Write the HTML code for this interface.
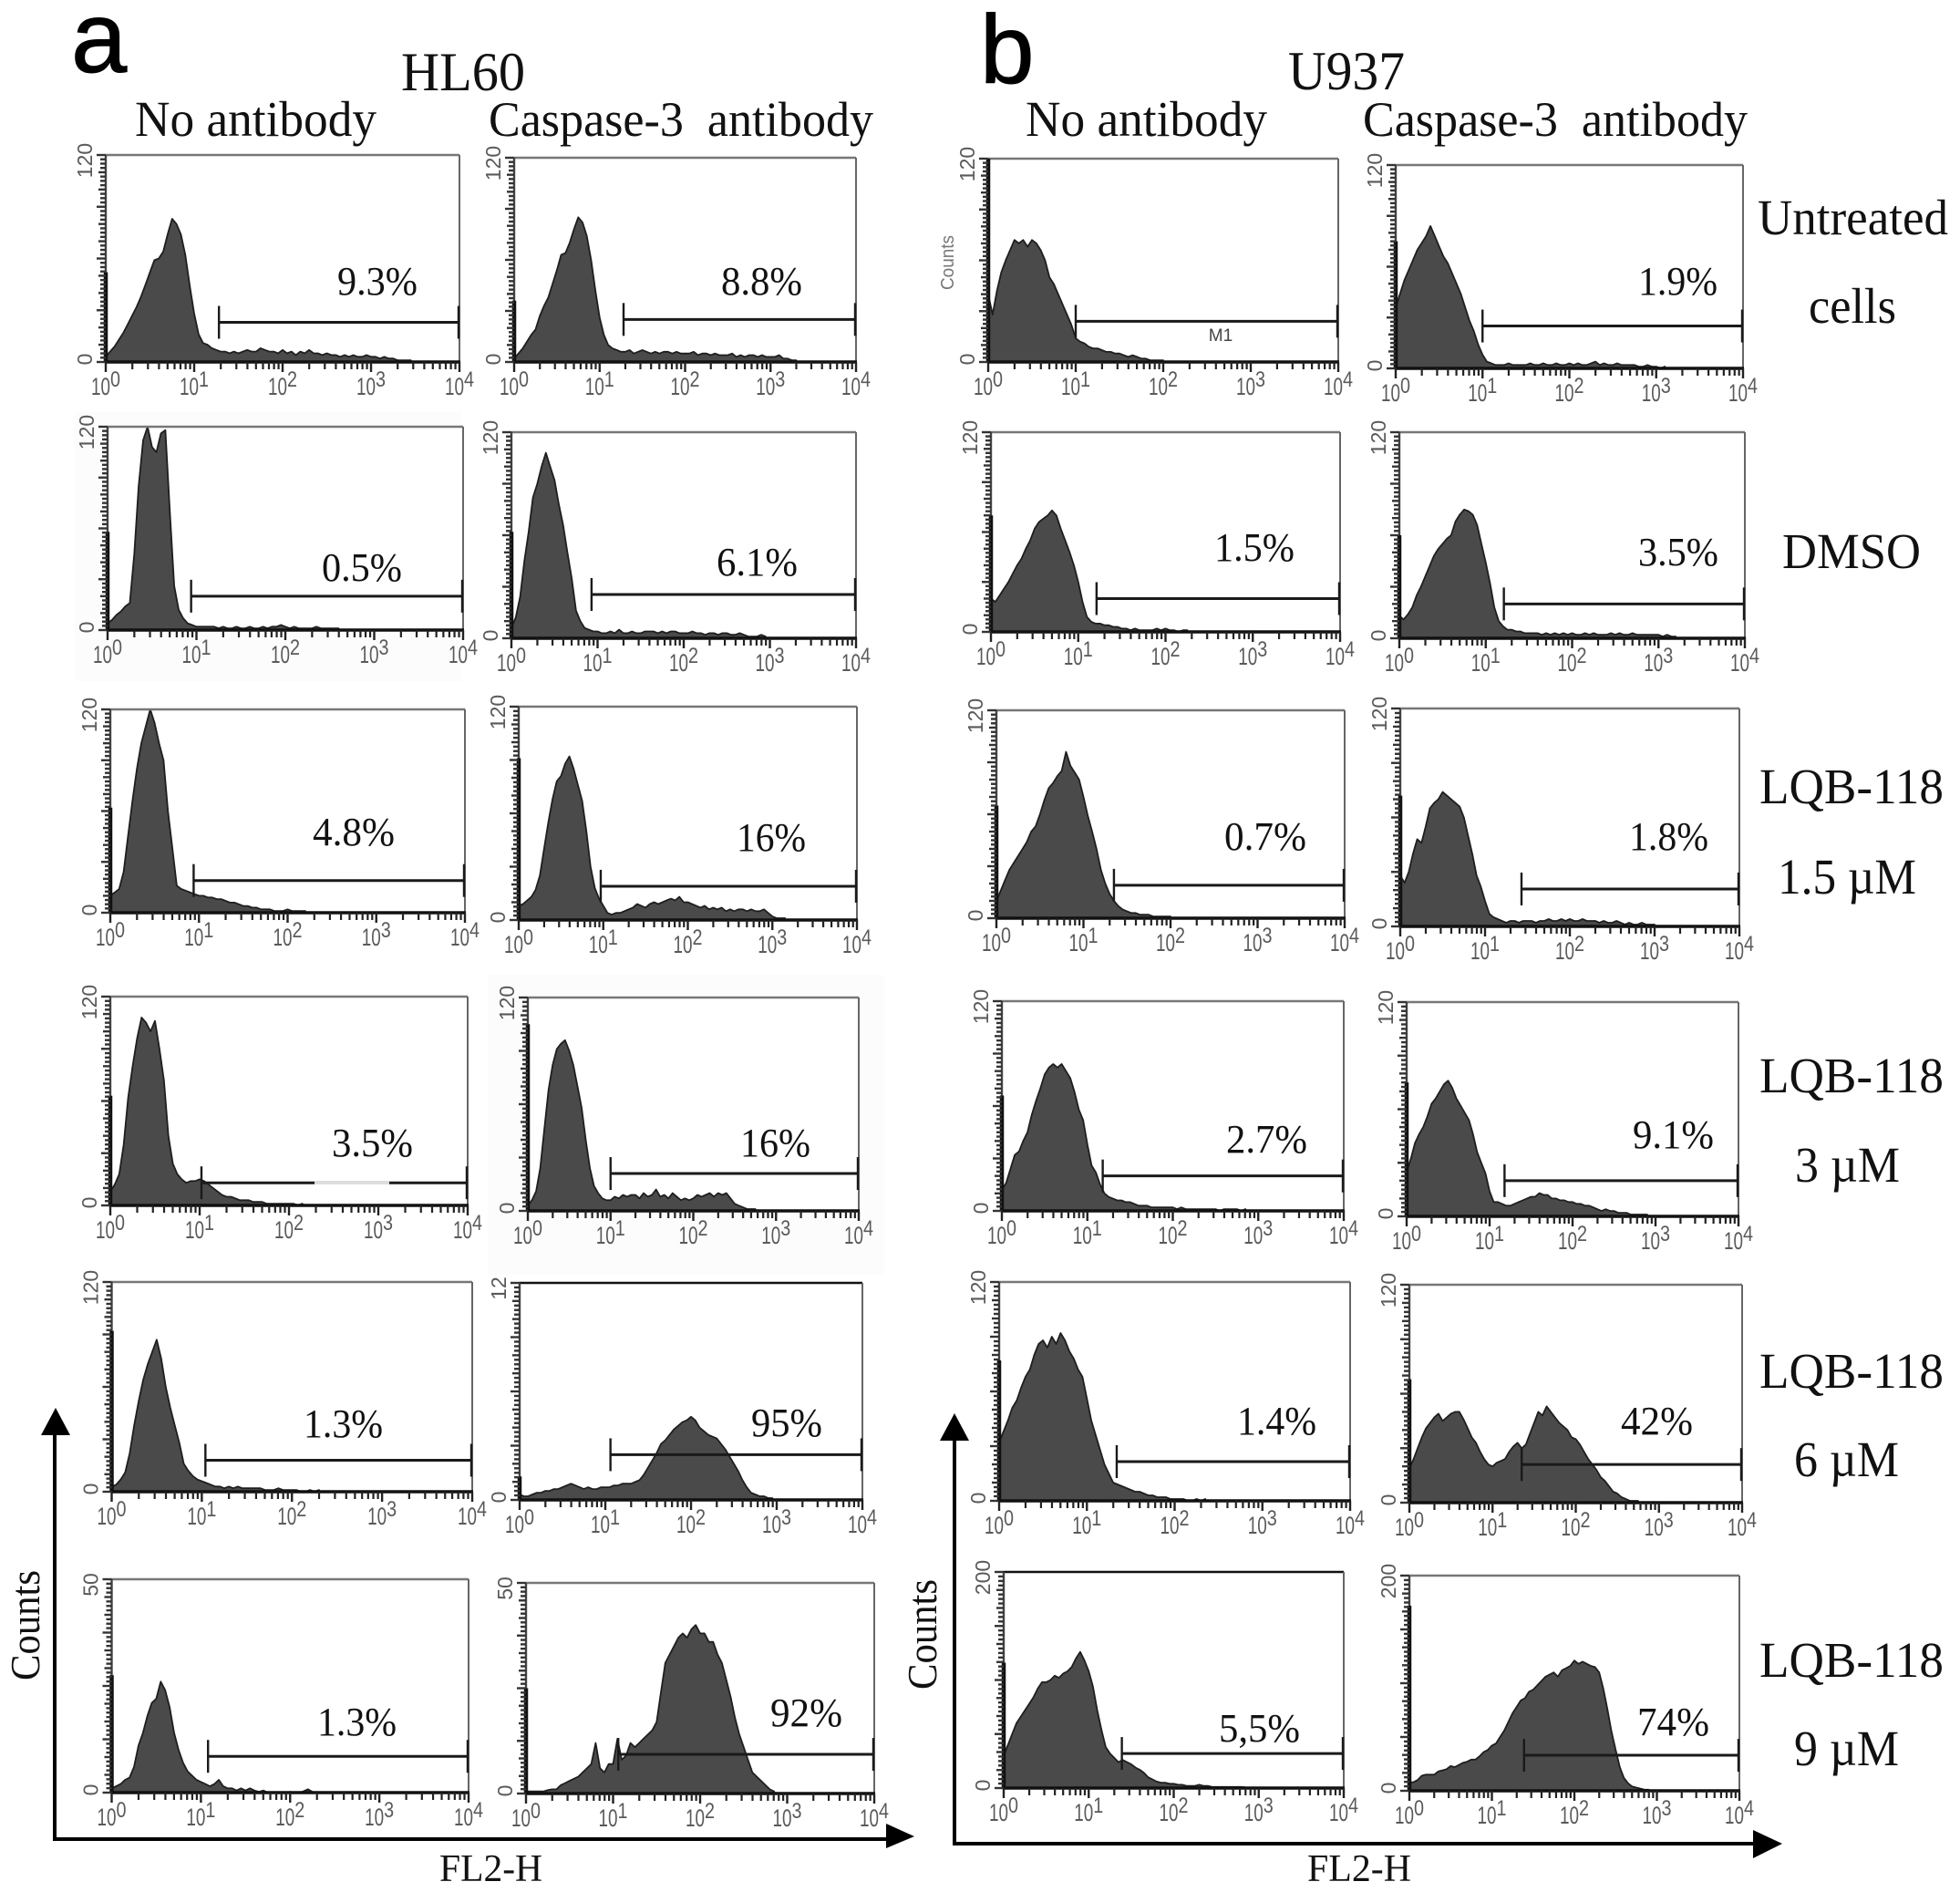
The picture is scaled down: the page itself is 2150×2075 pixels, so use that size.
<!DOCTYPE html>
<html lang="en">
<head>
<meta charset="utf-8">
<title>Caspase-3 flow cytometry histograms for HL60 and U937 cells</title>
<style>
html,body{margin:0;padding:0;background:#fff}
svg{display:block}
.serif{font-family:"Liberation Serif",serif;fill:#111}
.sans{font-family:"Liberation Sans",sans-serif}
</style>
</head>
<body>
<svg id="figure" xmlns="http://www.w3.org/2000/svg" width="2150" height="2075" viewBox="0 0 2150 2075">
  <rect x="0" y="0" width="2150" height="2075" fill="#fff"/>
  <rect x="82" y="452" width="425" height="295" fill="#fcfcfc"/>
  <rect x="535" y="1069" width="435" height="329" fill="#fcfcfc"/>

  <text class="sans" x="78" y="79" font-size="110" fill="#000" stroke="#000" stroke-width="1">a</text>
  <text class="sans" x="1075" y="91" font-size="107" fill="#000" stroke="#000" stroke-width="1">b</text>

  <text class="serif" x="440" y="99" font-size="60" textLength="136" lengthAdjust="spacingAndGlyphs">HL60</text>
  <text class="serif" x="1413" y="98" font-size="60" textLength="128" lengthAdjust="spacingAndGlyphs">U937</text>
  <text class="serif" x="148" y="149" font-size="55" textLength="265" lengthAdjust="spacingAndGlyphs">No antibody</text>
  <text class="serif" x="536" y="149" font-size="54" textLength="422" lengthAdjust="spacingAndGlyphs">Caspase-3&#160; antibody</text>
  <text class="serif" x="1125" y="149" font-size="55" textLength="265" lengthAdjust="spacingAndGlyphs">No antibody</text>
  <text class="serif" x="1495" y="149" font-size="54" textLength="422" lengthAdjust="spacingAndGlyphs">Caspase-3&#160; antibody</text>

  <text class="serif" x="1928" y="257" font-size="55" textLength="209" lengthAdjust="spacingAndGlyphs">Untreated</text>
  <text class="serif" x="1984" y="354" font-size="55" textLength="96" lengthAdjust="spacingAndGlyphs">cells</text>
  <text class="serif" x="1955" y="623" font-size="55" textLength="152" lengthAdjust="spacingAndGlyphs">DMSO</text>
  <text class="serif" x="1930" y="881" font-size="55" textLength="202" lengthAdjust="spacingAndGlyphs">LQB-118</text>
  <text class="serif" x="1950" y="980" font-size="55" textLength="152" lengthAdjust="spacingAndGlyphs">1.5 µM</text>
  <text class="serif" x="1930" y="1198" font-size="55" textLength="202" lengthAdjust="spacingAndGlyphs">LQB-118</text>
  <text class="serif" x="1969" y="1296" font-size="55" textLength="115" lengthAdjust="spacingAndGlyphs">3 µM</text>
  <text class="serif" x="1930" y="1522" font-size="55" textLength="202" lengthAdjust="spacingAndGlyphs">LQB-118</text>
  <text class="serif" x="1968" y="1619" font-size="55" textLength="115" lengthAdjust="spacingAndGlyphs">6 µM</text>
  <text class="serif" x="1930" y="1839" font-size="55" textLength="202" lengthAdjust="spacingAndGlyphs">LQB-118</text>
  <text class="serif" x="1968" y="1936" font-size="55" textLength="115" lengthAdjust="spacingAndGlyphs">9 µM</text>

  <g id="panels"></g>

  <rect x="345" y="1295" width="82" height="4" fill="#ddd"/>
  <text class="sans" x="1339" y="374" font-size="19" fill="#444" text-anchor="middle">M1</text>
  <text class="sans" transform="translate(1046,318) rotate(-90)" font-size="20" fill="#777" textLength="60" lengthAdjust="spacingAndGlyphs">Counts</text>

  <g>
    <line x1="60" y1="1570" x2="60" y2="2018" stroke="#000" stroke-width="4"/>
    <polygon points="61,1544 45,1574 77,1574" fill="#000"/>
    <line x1="58" y1="2017" x2="975" y2="2017" stroke="#000" stroke-width="4"/>
    <polygon points="1003,2014 972,2000 972,2027" fill="#000"/>
  </g>
  <g>
    <line x1="1047" y1="1575" x2="1047" y2="2023" stroke="#000" stroke-width="4"/>
    <polygon points="1047,1550 1031,1580 1063,1580" fill="#000"/>
    <line x1="1045" y1="2022" x2="1925" y2="2022" stroke="#000" stroke-width="4"/>
    <polygon points="1955,2022 1923,2007 1923,2038" fill="#000"/>
  </g>
  <text class="serif" transform="translate(43,1843) rotate(-90)" font-size="46" textLength="121" lengthAdjust="spacingAndGlyphs">Counts</text>
  <text class="serif" transform="translate(1027,1853) rotate(-90)" font-size="46" textLength="121" lengthAdjust="spacingAndGlyphs">Counts</text>
  <text class="serif" x="482" y="2063" font-size="42" textLength="113" lengthAdjust="spacingAndGlyphs">FL2-H</text>
  <text class="serif" x="1434" y="2063" font-size="42" textLength="114" lengthAdjust="spacingAndGlyphs">FL2-H</text>
</svg>

<script>
// Tick labels and categories
const tickBase = '10';
const tickExponents = ['0', '1', '2', '3', '4'];
const rowNames = ['untreated', 'dmso', 'lqb-1-5', 'lqb-3', 'lqb-6', 'lqb-9'];
const columnNames = ['hl60-no-antibody', 'hl60-caspase-3', 'u937-no-antibody', 'u937-caspase-3'];
const binWidthDecades = 0.05;

// Counts per FL2-H bin (log10 bins of 0.05 decades, starting at 10^0)
const hl60NoUntreated = [3,6,9,13,17,22,27,32,38,45,52,59,60,64,74,83,80,74,62,44,28,16,11,10,8,7,6,6,5,6,5,6,7,6,6,8,7,6,6,5,7,5,6,4,6,5,7,5,5,4,5,4,4,3,4,3,4,3,3,4,3,3,2,3,2,2,1,1,1,1];
const hl60CaspUntreated = [2,5,8,12,16,19,27,33,38,46,54,63,64,70,78,85,82,74,60,42,26,16,10,8,7,6,6,7,5,6,7,6,5,6,5,6,6,5,6,5,5,5,6,4,5,5,4,5,4,4,4,5,3,4,3,4,4,3,4,3,3,3,4,2,2,1,1];
const u937NoUntreated = [40,28,42,53,60,66,72,70,72,68,72,70,66,60,50,46,40,34,28,22,14,12,11,9,8,8,7,6,6,5,5,4,3,4,3,2,2,1,1,1,1];
const u937CaspUntreated = [36,44,52,58,64,70,74,78,84,78,72,66,62,56,50,44,36,28,22,14,8,4,3,2,2,2,3,2,2,2,2,3,2,2,3,2,2,3,2,2,3,2,3,2,2,3,4,2,3,2,2,3,2,2,2,2,1,1,2,1,1,0,1];

const hl60NoDmso = [4,6,9,11,14,16,45,85,112,120,108,105,116,118,70,26,12,7,4,3,2,2,2,2,2,1,2,1,1,2,1,1,2,1,1,2,1,2,2,3,2,1,2,1,1,1,1,2,1,1,1,1,1];
const hl60CaspDmso = [6,12,24,45,62,82,90,100,108,100,92,78,66,50,35,16,10,6,5,4,4,3,3,4,3,5,3,3,4,3,3,4,4,4,3,4,3,4,4,3,3,3,4,3,3,2,3,3,2,3,3,2,2,3,2,1,1,1,2,1];
const u937NoDmso = [20,18,22,26,30,35,40,44,50,55,62,66,68,70,73,70,62,55,48,40,30,18,9,6,5,5,4,4,3,3,2,2,1,2,1,1,1,1,2,1,2,1,1,0,1,1];
const u937CaspDmso = [13,11,14,18,25,30,36,42,48,52,55,58,60,68,72,75,74,72,66,55,44,32,18,10,7,5,5,4,4,3,3,3,3,2,3,2,3,2,3,2,3,2,2,3,2,3,2,2,2,3,2,3,2,2,3,2,2,2,2,2,2,1,2,1,1];

const hl60NoLqb15 = [10,12,14,24,45,66,85,100,110,120,112,100,90,60,38,16,14,13,12,11,10,10,9,9,8,8,7,6,6,5,4,4,3,3,2,2,2,1,1,1,2,1,1,1,1];
const hl60CaspLqb15 = [8,9,11,13,17,25,40,55,68,78,81,88,92,85,76,67,50,30,18,12,8,4,3,4,4,5,6,7,9,8,7,9,10,9,10,11,12,11,13,10,10,9,8,7,8,6,7,6,7,5,6,5,6,6,5,6,5,5,6,4,2,1,1,1];
const u937NoLqb15 = [10,16,22,28,32,36,40,44,50,53,60,68,75,78,82,85,96,88,84,80,70,59,50,40,28,20,14,10,7,5,4,3,3,2,2,2,1,1,1,1,1];
const u937CaspLqb15 = [28,24,30,40,48,46,55,65,68,70,74,72,70,68,66,60,50,40,28,22,14,7,5,4,3,2,3,3,2,3,3,3,2,3,3,4,3,3,4,3,4,3,3,4,3,3,3,2,3,2,2,3,2,1,2,1,1,2,1,1,1];

const hl60NoLqb3 = [8,12,18,35,62,80,96,108,105,100,106,90,72,40,24,18,15,13,14,14,15,14,12,10,8,6,5,5,4,3,3,3,2,2,2,1,1,1,1,1,1,1,0,1];
const hl60CaspLqb3 = [3,6,11,24,46,68,82,91,94,96,90,82,70,58,40,24,14,10,7,6,6,8,7,9,8,9,9,7,10,8,9,12,8,9,7,10,8,6,7,6,7,9,8,9,10,8,10,9,10,7,4,3,2,1,1,1];
const u937NoLqb3 = [12,16,24,32,34,40,45,55,63,70,78,82,84,82,84,80,76,68,58,52,38,26,22,15,10,8,7,6,6,5,5,4,3,3,3,2,2,2,2,2,2,1,2,1,1,1,1,1,1,1,1,0,1,1,1,1,0,1];
const u937CaspLqb3 = [25,32,41,46,50,56,63,66,70,74,76,72,66,62,58,54,46,36,30,24,14,8,8,7,6,6,7,8,9,10,11,11,13,12,12,10,10,9,9,8,8,7,7,6,6,5,4,3,4,3,3,2,2,2,1,1,1,1,1];

const hl60NoLqb6 = [3,4,7,11,22,38,52,64,73,80,87,76,60,48,38,28,16,12,9,7,6,5,4,3,3,2,3,2,3,2,2,2,2,2,1,1,1,2,1,1,1,1,0,0,1,0,1];
const hl60CaspLqb6 = [3,2,2,3,4,4,5,5,6,6,7,8,9,8,7,6,7,6,6,7,7,7,8,8,9,9,9,10,11,14,18,22,26,31,33,36,39,41,43,44,46,44,40,38,36,35,34,31,28,24,20,16,11,7,4,3,2,2,1,1];
const u937NoLqb6 = [32,38,44,51,55,62,68,72,80,86,88,84,90,86,92,88,82,78,72,68,56,44,36,28,20,15,10,9,8,7,6,5,5,4,3,3,2,2,2,1,1,1,1,0,0,1,0,1];
const u937CaspLqb6 = [19,24,30,36,41,44,47,49,45,47,49,50,50,46,41,36,33,28,24,21,20,22,23,24,28,31,33,30,32,38,44,50,48,53,50,47,44,42,40,36,35,32,28,24,21,18,14,12,9,6,5,3,2,1,1,1];

const hl60NoLqb9 = [1,1.5,2,3,3.5,6,11,14,18,21,22,26,24,20,14,10,7,5,4,3,2.5,2,1.5,2,3,1.5,1,1,0.5,1,0.5,1,0.5,0.2,0.5,0,0,0,0,0,0.2,0,0,0.3,0.8,0.2];
const hl60CaspLqb9 = [0.5,0.5,0.5,0.5,0.5,0.8,1,1,2,2.5,3,3.5,4,5,6,7,12,6,5,7,7,13,8,9,12,11,12,13,14,15,17,24,31,33,35,37,38,37,39,40,38,38,36,36,33,31,27,23,18,14,11,8,5,4,3,2,1,0.5];
const u937NoLqb9 = [30,40,50,60,66,72,78,84,92,98,98,100,104,102,106,108,112,120,126,118,108,94,72,54,38,32,28,24,26,24,22,19,17,14,10,8,6,5,5,4,4,3,3,2,2,2,3,2,2,1,1,1,1,1,1,1,1,0.5,0.5,0.5,0.5];
const u937CaspLqb9 = [8,8,10,14,15,15,15,18,19,20,23,22,24,26,27,29,29,32,36,38,42,44,50,56,64,72,78,84,86,92,94,98,102,106,108,110,106,112,114,116,121,118,120,118,116,115,110,95,76,55,38,22,12,7,4,3,2,1,1];

const seriesValues = [
  hl60NoUntreated, hl60CaspUntreated, u937NoUntreated, u937CaspUntreated,
  hl60NoDmso, hl60CaspDmso, u937NoDmso, u937CaspDmso,
  hl60NoLqb15, hl60CaspLqb15, u937NoLqb15, u937CaspLqb15,
  hl60NoLqb3, hl60CaspLqb3, u937NoLqb3, u937CaspLqb3,
  hl60NoLqb6, hl60CaspLqb6, u937NoLqb6, u937CaspLqb6,
  hl60NoLqb9, hl60CaspLqb9, u937NoLqb9, u937CaspLqb9
];

// First-channel pile-up on the y axis, in counts
const firstBinCounts = [52,36,120,75, 58,62,70,60, 62,91,65,72, 63,105,66,75, 92,13,77,68, 27.5,25,116,172];
// Y-axis full scale and its printed label
const axisMaximums = [120,120,120,120, 120,120,120,120, 120,120,120,120, 120,120,120,120, 120,120,120,120, 50,50,200,200];
const axisTopLabels = ['120','120','120','120', '120','120','120','120', '120','120','120','120', '120','120','120','120', '120','12','120','120', '50','50','200','200'];
// Marker gate: starting decade and height in counts
const gateStartDecades = [1.28,1.28,1.0,1.0, 0.94,0.93,1.21,1.21, 0.94,0.97,1.35,1.43, 1.02,1.0,1.18,1.18, 1.04,1.06,1.34,1.35, 1.08,1.06,1.39,1.39];
const gateCounts = [23,25,24,25, 20,25.5,20,20, 19,19,19,20.6, 13,21,20,20, 18,25,21.5,21, 8.5,9.3,32,33];
// Printed gate percentages
const percentLabels = ['9.3%','8.8%','','1.9%', '0.5%','6.1%','1.5%','3.5%', '4.8%','16%','0.7%','1.8%', '3.5%','16%','2.7%','9.1%', '1.3%','95%','1.4%','42%', '1.3%','92%','5,5%','74%'];

// Page layout for each panel: plot box and percent-label placement
const plotBoxes = [
  {l:116,r:504,t:170,b:397},{l:564,r:939,t:173,b:397},{l:1084,r:1468,t:174,b:397},{l:1531,r:1912,t:181,b:404},
  {l:118,r:508,t:468,b:691},{l:561,r:939,t:474,b:700},{l:1087,r:1470,t:474,b:693},{l:1535,r:1914,t:474,b:700},
  {l:121,r:510,t:778,b:1001},{l:569,r:940,t:775,b:1009},{l:1093,r:1475,t:779,b:1007},{l:1536,r:1908,t:777,b:1016},
  {l:121,r:513,t:1093,b:1322},{l:579,r:942,t:1094,b:1328},{l:1099,r:1474,t:1098,b:1328},{l:1543,r:1907,t:1099,b:1334},
  {l:122.5,r:518,t:1406,b:1636},{l:570,r:946,t:1407,b:1645},{l:1096,r:1481,t:1406,b:1646},{l:1546,r:1911,t:1409,b:1648},
  {l:122.5,r:514,t:1732,b:1966},{l:577,r:959,t:1736,b:1967},{l:1101,r:1474,t:1724,b:1961},{l:1546,r:1908,t:1728,b:1964}
];
const labelBoxes = [
  {x:370,w:88,y:323},{x:791,w:89,y:323},null,{x:1797,w:87,y:323},
  {x:353,w:88,y:637},{x:786,w:89,y:631},{x:1332,w:88,y:615},{x:1797,w:88,y:620},
  {x:343,w:90,y:927},{x:808,w:76,y:933},{x:1343,w:90,y:932},{x:1787,w:87,y:932},
  {x:364,w:89,y:1268},{x:812,w:77,y:1268},{x:1345,w:89,y:1264},{x:1791,w:89,y:1259},
  {x:333,w:87,y:1576},{x:824,w:78,y:1575},{x:1357,w:87,y:1573},{x:1778,w:79,y:1573},
  {x:348,w:87,y:1903},{x:845,w:79,y:1893},{x:1337,w:89,y:1910},{x:1796,w:79,y:1903}
];
const darkTopPanels = [17, 22];

const SVGNS = 'http://www.w3.org/2000/svg';
const root = document.getElementById('panels');

function mk(parent, tag, attrs) {
  const el = document.createElementNS(SVGNS, tag);
  for (const k in attrs) el.setAttribute(k, attrs[k]);
  parent.appendChild(el);
  return el;
}

seriesValues.forEach(function (values, p) {
  const box = plotBoxes[p];
  const slug = rowNames[Math.floor(p / 4)] + '-' + columnNames[p % 4];
  const decadePx = (box.r - box.l) / 4;
  const xScale = function (d) { return box.l + d * decadePx; };
  const yScale = function (c) { return box.b - (c / axisMaximums[p]) * (box.b - box.t); };

  const g = mk(root, 'g', {});
  
  

  const plotBg = mk(g, 'rect', {x: box.l, y: box.t, width: box.r - box.l, height: box.b - box.t, fill: '#fff'});
  
  

  let d = 'M' + xScale(0) + ' ' + box.b;
  values.forEach(function (v, i) {
    d += ' L' + xScale(i * binWidthDecades).toFixed(1) + ' ' + yScale(v).toFixed(1);
  });
  d += ' L' + xScale((values.length - 1) * binWidthDecades).toFixed(1) + ' ' + box.b + ' Z';
  const hist = mk(g, 'path', {d: d, fill: '#4a4a4a', stroke: '#1e1e1e', 'stroke-width': 1.8, 'stroke-linejoin': 'round'});
  
  

  const topColor = darkTopPanels.indexOf(p) >= 0 ? '#111' : '#777';
  const topEdge = mk(g, 'line', {x1: box.l, y1: box.t, x2: box.r, y2: box.t, stroke: topColor, 'stroke-width': 2.4});
  
  
  const rightEdge = mk(g, 'line', {x1: box.r, y1: box.t, x2: box.r, y2: box.b, stroke: '#666', 'stroke-width': 2});
  
  
  const leftEdge = mk(g, 'line', {x1: box.l, y1: box.t, x2: box.l, y2: box.b, stroke: '#444', 'stroke-width': 2.4});
  
  
  const baseEdge = mk(g, 'line', {x1: box.l, y1: box.b, x2: box.r + 1, y2: box.b, stroke: '#111', 'stroke-width': 3.6});
  
  

  const spike = mk(g, 'line', {x1: box.l, y1: box.b, x2: box.l, y2: yScale(firstBinCounts[p]), stroke: '#111', 'stroke-width': 4.5});
  
  

  // y ticks
  for (let k = 0; k <= 48; k++) {
    const ty = box.b - (k / 48) * (box.b - box.t);
    const len = k % 12 === 0 ? 10 : (k % 4 === 0 ? 8 : 6);
    const tick = mk(g, 'line', {x1: box.l - len, y1: ty, x2: box.l, y2: ty, stroke: '#333', 'stroke-width': 2.4});
    
    
  }

  // x ticks and decade labels
  tickExponents.forEach(function (exp, dec) {
    const major = mk(g, 'line', {x1: xScale(dec), y1: box.b, x2: xScale(dec), y2: box.b + 11, stroke: '#222', 'stroke-width': 2.4});
    
    
    if (dec < 4) {
      for (let m = 2; m <= 9; m++) {
        const mx = xScale(dec + Math.log10(m));
        const minor = mk(g, 'line', {x1: mx, y1: box.b, x2: mx, y2: box.b + 8, stroke: '#222', 'stroke-width': 2.2});
        
        
      }
    }
    const lx = xScale(dec);
    const base = mk(g, 'text', {x: lx - 16, y: box.b + 36, 'font-size': 27, fill: '#5a5a5a', textLength: 21, lengthAdjust: 'spacingAndGlyphs', 'class': 'sans'});
    base.textContent = tickBase;
    
    
    const sup = mk(g, 'text', {x: lx + 5, y: box.b + 27, 'font-size': 24, fill: '#5a5a5a', textLength: 11, lengthAdjust: 'spacingAndGlyphs', 'class': 'sans'});
    sup.textContent = exp;
    
    
  });

  // y labels
  const topLabel = mk(g, 'text', {transform: 'translate(' + (box.l - 15) + ',' + (box.t + 6) + ') rotate(-90)', 'font-size': 23, fill: '#5a5a5a', 'text-anchor': 'middle', 'class': 'sans'});
  topLabel.textContent = axisTopLabels[p];
  
  
  const zeroLabel = mk(g, 'text', {transform: 'translate(' + (box.l - 15) + ',' + (box.b - 3) + ') rotate(-90)', 'font-size': 23, fill: '#5a5a5a', 'text-anchor': 'middle', 'class': 'sans'});
  zeroLabel.textContent = '0';
  
  

  // gate marker
  const gx = xScale(gateStartDecades[p]);
  const gy = yScale(gateCounts[p]);
  const gate = mk(g, 'line', {x1: gx, y1: gy, x2: box.r, y2: gy, stroke: '#1a1a1a', 'stroke-width': 3});
  
  
  const gateLeft = mk(g, 'line', {x1: gx, y1: gy - 18, x2: gx, y2: gy + 18, stroke: '#1a1a1a', 'stroke-width': 2.4});
  
  
  const gateRight = mk(g, 'line', {x1: box.r - 1, y1: gy - 18, x2: box.r - 1, y2: gy + 18, stroke: '#1a1a1a', 'stroke-width': 2.4});
  
  

  // printed percentage
  const lb = labelBoxes[p];
  if (lb) {
    const pct = mk(g, 'text', {x: lb.x, y: lb.y, 'font-size': 44, textLength: lb.w, lengthAdjust: 'spacingAndGlyphs', 'class': 'serif'});
    pct.textContent = percentLabels[p];
    
    
  }
});
</script>
</body>
</html>
